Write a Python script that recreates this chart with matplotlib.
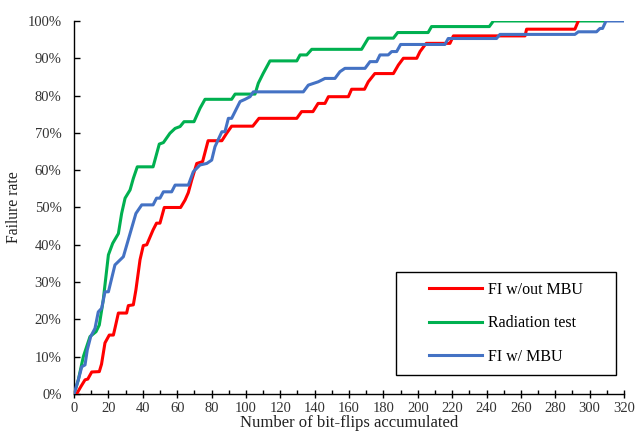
import matplotlib
matplotlib.use("Agg")
import matplotlib.pyplot as plt
from matplotlib.patches import Rectangle
from matplotlib.ticker import MultipleLocator, PercentFormatter

plt.rcParams['font.family'] = ['Liberation Serif', 'DejaVu Serif']

# Curvas acumuladas (bit-flips, % de falha)
red_x = [0, 1.5, 4, 6.4, 8, 10.3, 14.7, 16, 18, 20.5,
         22.9, 24, 25.8, 30.6, 31.6, 34.5, 36, 38.4, 40.3, 42.3,
         46, 48, 50, 52.5, 62, 64.6, 66.5, 68.5, 71.4, 74.8,
         78, 86, 88.8, 91.7, 104, 107.6, 129.6, 132.4, 139, 142,
         146, 148, 159.6, 161.5, 169, 171.2, 175, 185.8, 188.7, 191.6,
         199.4, 201.3, 204.2, 205, 218.7, 220.7, 262.4, 263.3, 291.4, 293.4]
red_y = [0, 0, 2, 3.8, 4, 5.9, 6, 8, 13.7, 15.8,
         15.8, 18, 21.7, 21.7, 23.7, 23.9, 27.9, 36, 39.8, 40,
         44, 45.8, 45.8, 50, 50, 52, 54, 57.4, 61.8, 62.3,
         67.9, 67.9, 69.9, 71.8, 71.8, 73.9, 73.9, 75.7, 75.7, 77.9,
         77.9, 79.7, 79.7, 81.7, 81.7, 83.7, 85.9, 85.9, 88.2, 90,
         90, 91.8, 93.6, 94, 94, 96, 96, 97.8, 97.8, 100]

green_x = [0, 2.5, 5.4, 9.3, 12.8, 14.7, 17, 20, 22.5, 25.8,
           27.7, 29.7, 32.6, 34.5, 36.8, 46, 49.6, 52, 55.8, 58.8,
           61.7, 64, 69.8, 73.3, 76.2, 91.7, 93.7, 105.3, 107.2, 110,
           114, 129.6, 131.5, 135.4, 138.3, 167.3, 171.2, 185.8, 188.3, 206,
           208, 241.6, 244, 308]
green_y = [0, 3.8, 10, 15.4, 16.7, 18.5, 25.2, 37.3, 40.4, 43,
           48.4, 52.5, 54.7, 57.8, 60.9, 60.9, 67, 67.4, 69.9, 71.2,
           71.7, 73, 73, 76.6, 79, 79, 80.4, 80.4, 83.3, 85.9,
           89.3, 89.3, 90.9, 90.9, 92.4, 92.4, 95.4, 95.4, 96.9, 96.9,
           98.5, 98.5, 100, 100]

blue_x = [0, 2.5, 4.5, 6.4, 7.7, 9.7, 12.2, 14.1, 16.1, 18,
          20, 23.8, 28.7, 32.6, 36, 39.4, 46, 48, 50, 52,
          56.8, 58.8, 66.5, 69.4, 73.3, 77.2, 80.1, 82, 86, 87.8,
          89.8, 91.7, 96.6, 99.5, 102.4, 104.3, 133.4, 136.3, 142.1, 146,
          151.8, 154.7, 157.6, 169.3, 172.2, 176.1, 178, 182.8, 184.8, 187.7,
          190, 215.8, 217.7, 245.8, 247.8, 291.4, 293.4, 304, 306, 307.5,
          309.5, 320]
blue_y = [0, 3.8, 7.3, 7.8, 11.8, 15.4, 17.6, 22, 23, 27.4,
          27.4, 34.6, 36.8, 43, 48.4, 50.7, 50.7, 52.5, 52.5, 54.2,
          54.2, 56, 56, 59.6, 61.4, 61.8, 62.7, 66.3, 70.3, 70.3,
          73.9, 73.9, 78.4, 79, 79.7, 81, 81, 82.8, 83.7, 84.6,
          84.6, 86.4, 87.3, 87.3, 89.1, 89.1, 90.9, 90.9, 91.8, 91.8,
          93.7, 93.7, 95.3, 95.3, 96.4, 96.4, 97.1, 97.1, 98, 98,
          100, 100]

labels = ["FI w/out MBU", "Radiation test", "FI w/ MBU"]
cores = ["#FF0000", "#00B050", "#4472C4"]

fig = plt.figure(figsize=(6.36, 4.37), dpi=100)
ax = fig.add_axes([0.1164, 0.0984, 0.8648, 0.8536])

ax.plot(red_x, red_y, color=cores[0], lw=2.2, label=labels[0], zorder=3)
ax.plot(green_x, green_y, color=cores[1], lw=2.2, label=labels[1], zorder=2)
ax.plot(blue_x, blue_y, color=cores[2], lw=2.2, label=labels[2], zorder=4)

ax.set_xlim(0, 320)
ax.set_ylim(0, 100)
ax.xaxis.set_major_locator(MultipleLocator(20))
ax.xaxis.set_minor_locator(MultipleLocator(10))
ax.yaxis.set_major_locator(MultipleLocator(10))
ax.yaxis.set_major_formatter(PercentFormatter(decimals=0))

ax.spines['top'].set_visible(False)
ax.spines['right'].set_visible(False)
for s in ('left', 'bottom'):
    ax.spines[s].set_color('black')
    ax.spines[s].set_linewidth(1.0)

ax.tick_params(axis='x', which='major', direction='inout', length=6, width=1,
               labelsize=10.5, pad=3, colors='black', labelcolor='#333333')
ax.tick_params(axis='x', which='minor', direction='in', length=3, width=1)
ax.tick_params(axis='y', which='major', direction='in', length=4, width=1,
               labelsize=10.5, pad=9, labelcolor='#333333')

ax.set_xlabel("Number of bit-flips accumulated", fontsize=12, labelpad=0, color='#222222')
ax.set_ylabel("Failure rate", fontsize=11.3, labelpad=4, color='#222222')

# Caixa da legenda desenhada à parte, legenda sem moldura dentro dela
ax.add_patch(Rectangle((0.585, 0.051), 0.401, 0.277, transform=ax.transAxes,
                       fill=False, edgecolor='black', lw=1.0, zorder=5, clip_on=False))
ax.legend(loc='center', bbox_to_anchor=(0.7855, 0.1895), frameon=False,
          fontsize=11.5, handlelength=3.3, handletextpad=0.4, labelspacing=1.1)

fig.savefig("out.png", dpi=100)
